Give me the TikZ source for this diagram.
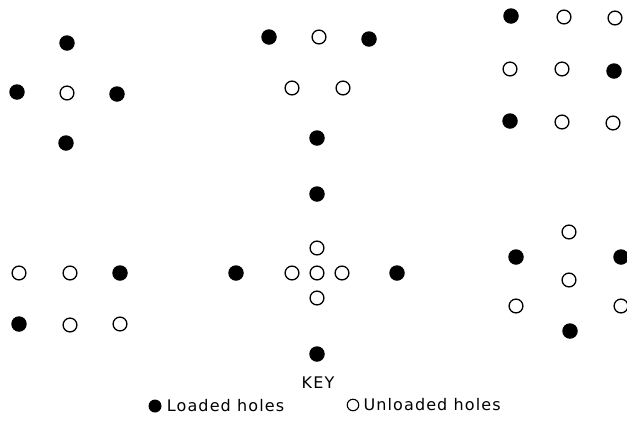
\documentclass[tikz,border=0pt]{standalone}
\usepackage{fontspec}
\newfontfamily\keyfont[LetterSpace=7]{DejaVu Sans}
\usetikzlibrary{positioning}
\tikzset{
  hole/.style={circle, inner sep=0pt},
  loaded/.style={hole, fill=black, minimum size=15.5pt},
  unloaded/.style={hole, draw=black, fill=white, line width=1.3pt, minimum size=13.8pt},
  keyloaded/.style={hole, fill=black, minimum size=13pt},
  keyunloaded/.style={hole, draw=black, line width=1.1pt, minimum size=11.5pt},
  keytext/.style={font=\keyfont\fontsize{16}{18}\selectfont, inner sep=0pt}
}
\begin{document}
\begin{tikzpicture}[x=1pt, y=-1pt]
  \useasboundingbox (0,0) rectangle (627,421);
  % top left: cross
  \node[loaded]   (a1) at (67,43)  {};
  \node[loaded]   (a2) at (17,92)  {};
  \node[unloaded] (a3) at (67,93)  {};
  \node[loaded]   (a4) at (117,94) {};
  \node[loaded]   (a5) at (66,143) {};
  % top middle: wedge
  \node[loaded]   (b1) at (269,37)  {};
  \node[unloaded] (b2) at (319,37)  {};
  \node[loaded]   (b3) at (369,39)  {};
  \node[unloaded] (b4) at (292,88)  {};
  \node[unloaded] (b5) at (343,88)  {};
  \node[loaded]   (b6) at (317,138) {};
  \node[loaded]   (b7) at (317,194) {};
  % top right: grid
  \node[loaded]   (c1) at (511,16)  {};
  \node[unloaded] (c2) at (564,17)  {};
  \node[unloaded] (c3) at (615,18)  {};
  \node[unloaded] (c4) at (510,69)  {};
  \node[unloaded] (c5) at (562,69)  {};
  \node[loaded]   (c6) at (614,71)  {};
  \node[loaded]   (c7) at (510,121) {};
  \node[unloaded] (c8) at (562,122) {};
  \node[unloaded] (c9) at (613,123) {};
  % bottom left: two rows
  \node[unloaded] (d1) at (19,273)  {};
  \node[unloaded] (d2) at (70,273)  {};
  \node[loaded]   (d3) at (120,273) {};
  \node[loaded]   (d4) at (19,324)  {};
  \node[unloaded] (d5) at (70,325)  {};
  \node[unloaded] (d6) at (120,324) {};
  % bottom middle: burn cut
  \node[loaded]   (e1) at (236,273) {};
  \node[unloaded] (e2) at (292,273) {};
  \node[unloaded] (e3) at (317,273) {};
  \node[unloaded] (e4) at (342,273) {};
  \node[loaded]   (e5) at (397,273) {};
  \node[unloaded] (e6) at (317,248) {};
  \node[unloaded] (e7) at (317,298) {};
  \node[loaded]   (e8) at (317,354) {};
  % bottom right: hexagon
  \node[unloaded] (f1) at (569,232) {};
  \node[loaded]   (f2) at (516,257) {};
  \node[loaded]   (f3) at (621,257) {};
  \node[unloaded] (f4) at (569,280) {};
  \node[unloaded] (f5) at (516,306) {};
  \node[unloaded] (f6) at (621,306) {};
  \node[loaded]   (f7) at (570,331) {};
  % key
  \node[keytext] (key) at (318,383) {KEY};
  \node[keyloaded] (kl) at (155,406) {};
  \node[keytext, right=5pt of kl] (kltext) {Loaded holes};
  \node[keyunloaded] (ku) at (353,405) {};
  \node[keytext, right=4pt of ku] (kutext) {Unloaded holes};
\end{tikzpicture}
\end{document}
